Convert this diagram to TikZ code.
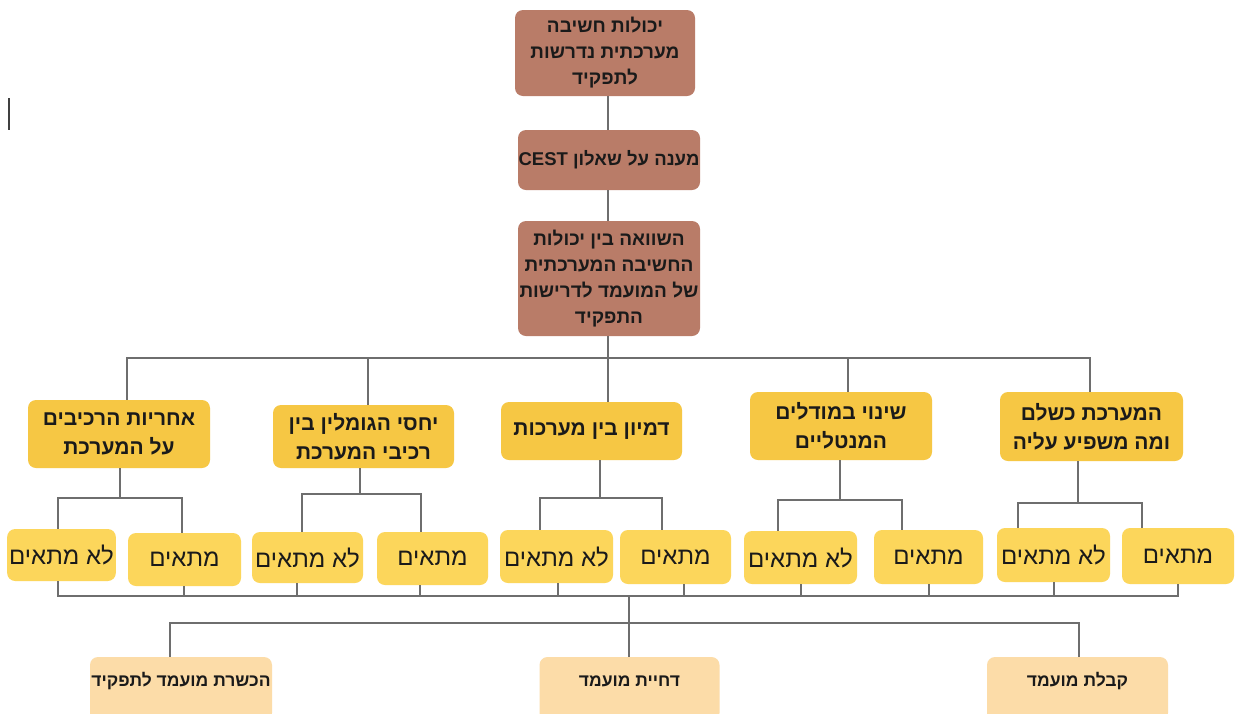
\documentclass[tikz,border=0pt]{standalone}
\usepackage{fontspec}
\setmainfont{Liberation Sans}
\newfontfamily\heb[Script=Hebrew]{Liberation Sans}
\TeXXeTstate=1
\definecolor{brownbox}{HTML}{B97C68}
\definecolor{midyel}{HTML}{F6C744}
\definecolor{leafyel}{HTML}{FCD65B}
\definecolor{peach}{HTML}{FCDCA8}
\definecolor{linegray}{HTML}{6E6E6E}
\definecolor{txt}{HTML}{1A1A1A}
\newcommand{\hl}[1]{\beginR #1\endR}
\tikzset{
  conn/.style={draw=linegray, line width=1.3pt},
  boxbase/.style={rounded corners=8pt, inner sep=2pt, align=center, text=txt},
  topbox/.style={boxbase, inner xsep=0pt, fill=brownbox, font=\heb\bfseries\fontsize{19}{26}\selectfont},
  midbox/.style={boxbase, fill=midyel, font=\heb\bfseries\fontsize{21}{29}\selectfont},
  leafbox/.style={boxbase, fill=leafyel, font=\heb\fontsize{24}{28}\selectfont},
  botbox/.style={boxbase, fill=peach},
  bottxt/.style={text=txt, inner sep=0pt, font=\heb\bfseries\fontsize{17.5}{20}\selectfont}
}
\begin{document}
\begin{tikzpicture}[x=1pt,y=-1pt]
\useasboundingbox (0,0) rectangle (1236,713);
\fill[white] (0,0) rectangle (1236,713);
\clip (0,0) rectangle (1236,713);

% stray cursor mark
\draw[line width=1.4pt, draw=black!75] (9,98) -- (9,130);

% top column
\node[topbox, minimum width=180pt, minimum height=86pt] (t1) at (605,53)
  {\hl{יכולות חשיבה}\\\hl{מערכתית נדרשות}\\\hl{לתפקיד}};
\node[topbox, minimum width=182pt, minimum height=60pt, font=\heb\bfseries\fontsize{18.5}{26}\selectfont] (t2) at (609,160)
  {\hl{מענה על שאלון \beginL CEST\endL}};
\node[topbox, minimum width=182pt, minimum height=115pt] (t3) at (609,278.5)
  {\hl{השוואה בין יכולות}\\\hl{החשיבה המערכתית}\\\hl{של המועמד לדרישות}\\\hl{התפקיד}};

% middle row
\node[midbox, minimum width=182pt, minimum height=68pt] (m1) at (119,434)
  {\hl{אחריות הרכיבים}\\\hl{על המערכת}};
\node[midbox, minimum width=181pt, minimum height=63pt] (m2) at (363.5,436.5)
  {\hl{יחסי הגומלין בין}\\\hl{רכיבי המערכת}};
\node[midbox, minimum width=181pt, minimum height=58pt] (m3) at (591.5,431)
  {\hl{דמיון בין מערכות}};
\node[midbox, minimum width=182pt, minimum height=68pt] (m4) at (841,426)
  {\hl{שינוי במודלים}\\\hl{המנטליים}};
\node[midbox, minimum width=183pt, minimum height=69pt] (m5) at (1091.5,426.5)
  {\hl{המערכת כשלם}\\\hl{ומה משפיע עליה}};

% leaves
\node[leafbox, minimum width=107pt, minimum height=52pt] (l1) at (61.5,555) {\hl{לא מתאים}};
\node[leafbox, minimum width=113pt, minimum height=53pt] (l2) at (184.5,559.5) {\hl{מתאים}};
\node[leafbox, minimum width=111pt, minimum height=51pt] (l3) at (307.5,557.5) {\hl{לא מתאים}};
\node[leafbox, minimum width=111pt, minimum height=53pt] (l4) at (432.5,558.5) {\hl{מתאים}};
\node[leafbox, minimum width=113pt, minimum height=53pt] (l5) at (556.5,556.5) {\hl{לא מתאים}};
\node[leafbox, minimum width=111pt, minimum height=54pt] (l6) at (675.5,557) {\hl{מתאים}};
\node[leafbox, minimum width=113pt, minimum height=53pt] (l7) at (800.5,557.5) {\hl{לא מתאים}};
\node[leafbox, minimum width=109pt, minimum height=54pt] (l8) at (928.5,557) {\hl{מתאים}};
\node[leafbox, minimum width=113pt, minimum height=54pt] (l9) at (1053.5,555) {\hl{לא מתאים}};
\node[leafbox, minimum width=112pt, minimum height=56pt] (l10) at (1178,556) {\hl{מתאים}};

% bottom boxes
\node[botbox, minimum width=182pt, minimum height=64pt] (b1) at (181,689) {};
\node[botbox, minimum width=180pt, minimum height=64pt] (b2) at (629.5,689) {};
\node[botbox, minimum width=181pt, minimum height=64pt] (b3) at (1077.5,689) {};
\node[bottxt] (b1t) at (181,681) {\hl{הכשרת מועמד לתפקיד}};
\node[bottxt] (b2t) at (629.5,681) {\hl{דחיית מועמד}};
\node[bottxt] (b3t) at (1077.5,681) {\hl{קבלת מועמד}};

% coordinates
\coordinate (hub) at (608,358);
\coordinate (d1) at (127,358);
\coordinate (d2) at (368,358);
\coordinate (d4) at (848,358);
\coordinate (d5) at (1090,358);
\coordinate (s1a) at (58,498);   \coordinate (s1b) at (182,498);
\coordinate (s2a) at (302,494);  \coordinate (s2b) at (421,494);
\coordinate (s3a) at (540,498);  \coordinate (s3b) at (662,498);
\coordinate (s4a) at (778,500);  \coordinate (s4b) at (902,500);
\coordinate (s5a) at (1018,503); \coordinate (s5b) at (1142,503);
\coordinate (u1) at (58,596);   \coordinate (u2) at (184,596);
\coordinate (u3) at (297,596);  \coordinate (u4) at (420,596);
\coordinate (u5) at (558,596);  \coordinate (u6) at (684,596);
\coordinate (u7) at (801,596);  \coordinate (u8) at (929,596);
\coordinate (u9) at (1054,596); \coordinate (u10) at (1178,596);
\coordinate (v0) at (629,596);
\coordinate (w0) at (629,623);
\coordinate (w1) at (170,623);
\coordinate (w3) at (1079,623);

% top chain
\draw[conn] (t1.south -| hub) -- (t2.north -| hub);
\draw[conn] (t2.south -| hub) -- (t3.north -| hub);
\draw[conn] (t3.south -| hub) -- (m3.north -| hub);
% main bus
\draw[conn] (d1 |- m1.north) -- (d1) -- (d5) -- (d5 |- m5.north);
\draw[conn] (d2) -- (d2 |- m2.north);
\draw[conn] (d4) -- (d4 |- m4.north);

% sub buses
\draw[conn] (m1.south -| 120,0) -- (120,498);
\draw[conn] (s1a |- l1.north) -- (s1a) -- (s1b) -- (s1b |- l2.north);
\draw[conn] (m2.south -| 360,0) -- (360,494);
\draw[conn] (s2a |- l3.north) -- (s2a) -- (s2b) -- (s2b |- l4.north);
\draw[conn] (m3.south -| 600,0) -- (600,498);
\draw[conn] (s3a |- l5.north) -- (s3a) -- (s3b) -- (s3b |- l6.north);
\draw[conn] (m4.south -| 840,0) -- (840,500);
\draw[conn] (s4a |- l7.north) -- (s4a) -- (s4b) -- (s4b |- l8.north);
\draw[conn] (m5.south -| 1078,0) -- (1078,503);
\draw[conn] (s5a |- l9.north) -- (s5a) -- (s5b) -- (s5b |- l10.north);

% collecting bus
\draw[conn] (u1 |- l1.south) -- (u1) -- (u10) -- (u10 |- l10.south);
\draw[conn] (u2 |- l2.south) -- (u2);
\draw[conn] (u3 |- l3.south) -- (u3);
\draw[conn] (u4 |- l4.south) -- (u4);
\draw[conn] (u5 |- l5.south) -- (u5);
\draw[conn] (u6 |- l6.south) -- (u6);
\draw[conn] (u7 |- l7.south) -- (u7);
\draw[conn] (u8 |- l8.south) -- (u8);
\draw[conn] (u9 |- l9.south) -- (u9);

% outcome bus
\draw[conn] (v0) -- (v0 |- b2.north);
\draw[conn] (w1 |- b1.north) -- (w1) -- (w3) -- (w3 |- b3.north);
\end{tikzpicture}
\end{document}
